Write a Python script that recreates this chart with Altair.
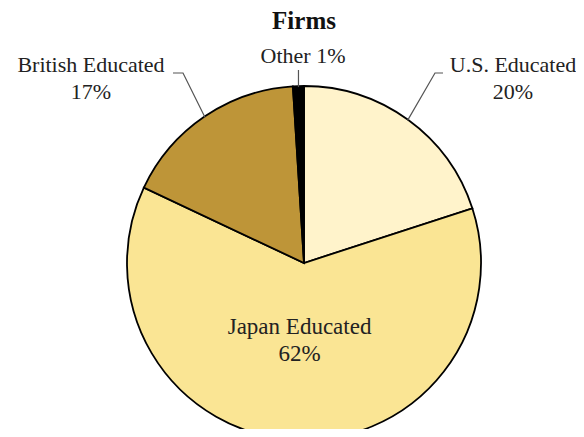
import math
import altair as alt
import pandas as pd

# ---- data ----
categories = ["U.S. Educated", "Japan Educated", "British Educated", "Other"]
shares = [20, 62, 17, 1]
colors = ["#FFF3CB", "#FAE594", "#BE9538", "#000000"]
label_lines = ["U.S. Educated\n20%", "Japan Educated\n62%", "British Educated\n17%", "Other 1%"]
title_text = "Firms"

# ---- layout (pixels inside the plot area) ----
W, H = 568, 421
CX, CY, R = 296, 255, 177
FONT = "Liberation Serif"

# mid-angles of slices (clockwise from 12 o'clock) derived from the shares
total = sum(shares)
mids = []
acc = 0
for s in shares:
    mids.append((acc + s / 2) / total * 2 * math.pi)
    acc += s

def edge(a, r=R):
    return CX + r * math.sin(a), CY - r * math.cos(a)

pie_df = pd.DataFrame({"cat": categories, "share": shares, "idx": range(len(shares))})

# label placement (outside labels with leader lines, inside label for Japan)
label_pos = {
    "U.S. Educated": (505, 64),
    "British Educated": (83, 64),
    "Other": (295, 55),
}
elbows = {
    "U.S. Educated": [(435, 65), (427, 65)],
    "British Educated": [(165, 65), (175, 65)],
}

rows = []
for i, c in enumerate(categories):
    if c == "Japan Educated":
        continue
    ex, ey = edge(mids[i], R - 1)
    if c == "Other":
        pts = [(ex, 62), (ex, ey)]
    else:
        pts = elbows[c] + [(ex, ey)]
    for k, (px, py) in enumerate(pts):
        rows.append({"cat": c, "seq": k, "px": px, "py": py})
lines_df = pd.DataFrame(rows)

txt_rows = []
for i, c in enumerate(categories):
    if c == "Japan Educated":
        jx, jy = edge(mids[i], R * 0.40)
        txt_rows.append({"label": label_lines[i], "px": jx, "py": jy, "fs": 23})
    else:
        px, py = label_pos[c]
        txt_rows.append({"label": label_lines[i], "px": px, "py": py, "fs": 22})
txt_df = pd.DataFrame(txt_rows)

pie = alt.Chart(pie_df).mark_arc(
    radius=R, stroke="black", strokeWidth=1.8
).encode(
    theta=alt.Theta("share:Q", stack=True),
    color=alt.Color("cat:N", scale=alt.Scale(domain=categories, range=colors), legend=None),
    order=alt.Order("idx:Q"),
    x=alt.value(CX),
    y=alt.value(CY),
)

leaders = alt.Chart(lines_df).mark_line(color="#555555", strokeWidth=1.2).encode(
    x=alt.X("px:Q", scale=None, axis=None),
    y=alt.Y("py:Q", scale=None, axis=None),
    detail="cat:N",
    order="seq:Q",
)

labels = alt.Chart(txt_df).mark_text(
    font=FONT, color="#222222", align="center",
    baseline="alphabetic", lineBreak="\n", lineHeight=27
).encode(
    x=alt.X("px:Q", scale=None, axis=None),
    y=alt.Y("py:Q", scale=None, axis=None),
    size=alt.Size("fs:Q", scale=None, legend=None),
    text="label:N",
)

title = alt.Chart(pd.DataFrame({"t": [title_text]})).mark_text(
    font=FONT, fontSize=25, fontWeight="bold", color="#111111",
    align="center", baseline="alphabetic"
).encode(
    x=alt.value(CX),
    y=alt.value(21),
    text="t:N",
)

chart = alt.layer(pie, leaders, labels, title).properties(
    width=W, height=H, autosize="none", padding=0, background="white"
).configure_view(stroke=None)

chart.save("out.html", embed_options={"renderer": "svg", "actions": False})
